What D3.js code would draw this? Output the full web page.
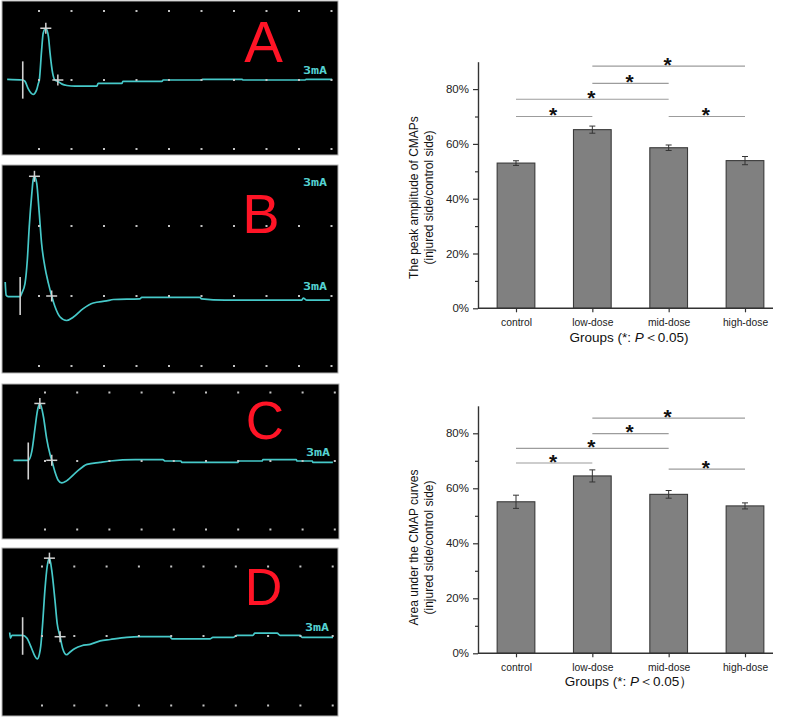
<!DOCTYPE html>
<html><head><meta charset="utf-8">
<script src="https://cdn.jsdelivr.net/npm/d3@7"></script>
<style>body{margin:0;background:#fff} svg{display:block}</style>
</head><body>
<svg id="fig" width="787" height="717"></svg>
<script>
// ---------------- DATA ----------------
// Oscilloscope traces: [time (divisions), amplitude (divisions)]
const panelLetters = ["A", "B", "C", "D"];
const stimLabel = "3mA";
const traceA = [[0.02,0.01],[0.5,0],[0.57,-0.02],[0.67,-0.13],[0.82,-0.21],[0.93,-0.14],[0.98,-0.05],[1.01,0],[1.08,0.43],[1.13,0.68],[1.21,0.75],[1.29,0.63],[1.34,0.39],[1.42,0.1],[1.49,0],[1.58,-0.02],[1.71,-0.06],[1.86,-0.08],[2.11,-0.09],[2.78,-0.09],[2.82,-0.05],[3.55,-0.05],[3.58,-0.02],[4.78,-0.02],[4.82,0],[6.0,0],[6.03,0.01],[7.25,0.01],[7.28,0],[9.18,0],[9.22,0.01],[10.02,0.01]];
const traceB = [[-0.04,0.2],[-0.01,0.01],[0.05,-0.01],[0.42,-0.01],[0.47,0.04],[0.57,0.18],[0.64,0.51],[0.7,0.99],[0.78,1.47],[0.82,1.66],[0.86,1.71],[0.93,1.61],[1.0,1.23],[1.08,0.75],[1.18,0.42],[1.29,0.18],[1.39,0],[1.49,-0.15],[1.65,-0.3],[1.85,-0.35],[2.06,-0.3],[2.36,-0.18],[2.67,-0.1],[3.08,-0.07],[3.29,-0.05],[4.11,-0.04],[4.16,-0.02],[5.95,-0.02],[6.0,-0.04],[6.72,-0.06],[9.08,-0.06],[9.13,-0.03],[9.24,-0.06],[9.95,-0.06]];
const traceC = [[0.02,0.01],[0.48,0.01],[0.59,0.14],[0.69,0.48],[0.76,0.72],[0.84,0.84],[0.95,0.65],[1.05,0.33],[1.16,0.09],[1.21,0.01],[1.31,-0.16],[1.41,-0.28],[1.52,-0.32],[1.67,-0.29],[1.98,-0.16],[2.3,-0.05],[2.71,-0.02],[3.02,0],[3.8,0.02],[4.66,0.02],[4.73,0],[5.22,0],[5.25,-0.02],[6.99,-0.02],[7.02,0],[7.74,0],[7.77,0.02],[8.8,0.02],[8.83,0],[9.3,0],[9.32,-0.02],[9.94,-0.02]];
const traceD = [[0.0,0.05],[0.02,-0.03],[0.07,0.01],[0.4,0.01],[0.53,-0.03],[0.68,-0.18],[0.78,-0.29],[0.85,-0.33],[0.92,-0.26],[0.96,-0.15],[1.02,0.18],[1.09,0.66],[1.16,1.0],[1.23,1.12],[1.3,0.95],[1.4,0.52],[1.47,0.18],[1.56,-0.01],[1.64,-0.18],[1.76,-0.27],[1.87,-0.23],[2.02,-0.18],[2.23,-0.14],[2.49,-0.12],[2.8,-0.07],[3.11,-0.05],[3.62,-0.02],[4.03,-0.01],[4.96,-0.01],[5.02,-0.04],[6.2,-0.04],[6.29,-0.02],[6.91,-0.02],[7.04,0.01],[7.53,0.01],[7.59,0.04],[8.28,0.04],[8.37,0.01],[8.99,0.01],[9.05,-0.02],[10.01,-0.02]];
const onsetTimes = [0.5, 0.42, 0.48, 0.4];
const peakMarks = [[1.21,0.75],[0.86,1.71],[0.84,0.84],[1.23,1.12]];
const endMarks = [[1.58,0],[1.39,0],[1.21,0.01],[1.56,-0.01]];
const gridCols = [1,2,3,4,5,6,7,8,9,10];
const gridRows = [-1,0,1];

// Bar charts
const groups = ["control", "low-dose", "mid-dose", "high-dose"];
const amplitudeMeans = [53.0, 65.2, 58.6, 53.9];
const amplitudeErrors = [0.85, 1.3, 1.0, 1.5];
const areaMeans = [55.1, 64.5, 57.8, 53.6];
const areaErrors = [2.4, 2.2, 1.4, 1.1];
const yTicks = [0, 20, 40, 60, 80];
const yMinorTicks = [10, 30, 50, 70];
const sigPairs = [[0,1],[0,2],[1,2],[1,3],[2,3]];
const amplitudeSigLevels = [70.0, 76.3, 82.1, 88.4, 70.0];
const areaSigLevels = [69.2, 74.5, 79.9, 85.5, 67.0];
const amplitudeYLabel = ["The peak amplitude of CMAPs", "(injured side/control side)"];
const areaYLabel = ["Area under the CMAP curves", "(injured side/control side)"];
const amplitudeTitle = ["Groups (*: ", "P", "＜0.05)"];
const areaTitle = ["Groups (*: ", "P", "＜0.05）"];

// ---------------- LAYOUT ----------------
const panelGeom = [
  {box:[2,1,336,154],   x0:6.5,  sp:32.5, base:80,  rs:69,   letter:[263.5,62,58], labels:[[327,74]]},
  {box:[2,165,336,208], x0:6.5,  sp:32.5, base:296, rs:70,   letter:[261,233,56],  labels:[[327,186],[327,290]]},
  {box:[2,384,337,155], x0:12.8, sp:32.2, base:461, rs:68.5, letter:[265,439,53],  labels:[[330,456]]},
  {box:[2,548,336,168], x0:9.7,  sp:32.3, base:636, rs:69.5, letter:[263.5,605,52], labels:[[329,631]]}
];
const traces = [traceA, traceB, traceC, traceD];
const svg = d3.select("#fig");
const FONT = "'Liberation Sans', Arial, Helvetica, sans-serif";

panelGeom.forEach((pg, i) => {
  const g = svg.append("g");
  g.append("rect").attr("x", pg.box[0]).attr("y", pg.box[1])
    .attr("width", pg.box[2]).attr("height", pg.box[3])
    .attr("fill", "#000").attr("stroke", "#b4b4b4").attr("stroke-width", 1);
  const x = d3.scaleLinear().domain([0, 10]).range([pg.x0, pg.x0 + 10 * pg.sp]);
  const y = d3.scaleLinear().domain([-1, 1]).range([pg.base + pg.rs, pg.base - pg.rs]);

  // trace
  g.append("path").datum(traces[i])
    .attr("d", d3.line().x(d => x(d[0])).y(d => y(d[1])).curve(d3.curveMonotoneX))
    .attr("fill", "none").attr("stroke", "#46c9c9").attr("stroke-width", 1.7)
    .attr("stroke-linejoin", "round");

  // grid dots
  gridRows.forEach(v => gridCols.forEach(t => {
    g.append("rect").attr("x", x(t) - 1).attr("y", y(v) - 1)
      .attr("width", 2).attr("height", 2).attr("fill", "#c4c4c4");
  }));

  // cursors
  const cc = "#d2d2d2";
  g.append("line").attr("x1", x(onsetTimes[i])).attr("x2", x(onsetTimes[i]))
    .attr("y1", y(0.27)).attr("y2", y(-0.27)).attr("stroke", cc).attr("stroke-width", 1.6);
  [peakMarks[i], endMarks[i]].forEach(m => {
    const cx = x(m[0]), cy = y(m[1]);
    g.append("line").attr("x1", cx - 5.5).attr("x2", cx + 5.5).attr("y1", cy).attr("y2", cy)
      .attr("stroke", cc).attr("stroke-width", 1.5);
    g.append("line").attr("x1", cx).attr("x2", cx).attr("y1", cy - 5.5).attr("y2", cy + 5.5)
      .attr("stroke", cc).attr("stroke-width", 1.5);
  });

  // big letter
  g.append("text").attr("x", pg.letter[0]).attr("y", pg.letter[1])
    .attr("text-anchor", "middle").attr("font-family", FONT)
    .attr("font-size", pg.letter[2]).attr("fill", "#ff1426").text(panelLetters[i]);

  // stimulus labels
  pg.labels.forEach(p => {
    g.append("text").attr("x", p[0]).attr("y", p[1]).attr("text-anchor", "end")
      .attr("font-family", "'DejaVu Sans Mono', monospace").attr("font-weight", "bold")
      .attr("font-size", 10).attr("fill", "#55d2d2")
      .attr("textLength", 24).attr("lengthAdjust", "spacingAndGlyphs")
      .text(stimLabel);
  });
});

// ---------------- BAR CHARTS ----------------
const chartGeom = [
  {y0:308.3, yTop:61.7, means:amplitudeMeans, errs:amplitudeErrors, sig:amplitudeSigLevels,
   ylab:amplitudeYLabel, labY:197.5, title:amplitudeTitle, titleY:342},
  {y0:653.3, yTop:405.8, means:areaMeans, errs:areaErrors, sig:areaSigLevels,
   ylab:areaYLabel, labY:547.5, title:areaTitle, titleY:686}
];
const axisX0 = 478, axisX1 = 773;
const xp = d3.scalePoint().domain(groups).range([516, 745]);
const barW = 37.7;

chartGeom.forEach(cg => {
  const g = svg.append("g").attr("font-family", FONT);
  const y = d3.scaleLinear().domain([0, 90]).range([cg.y0, cg.yTop]);

  // bars
  g.selectAll("rect.bar").data(groups).enter().append("rect")
    .attr("x", d => xp(d) - barW / 2).attr("y", (d, i) => y(cg.means[i]))
    .attr("width", barW).attr("height", (d, i) => y(0) - y(cg.means[i]))
    .attr("fill", "#808080").attr("stroke", "#3a3a3a").attr("stroke-width", 1.1);

  // error bars
  groups.forEach((d, i) => {
    const cx = xp(d), lo = y(cg.means[i] - cg.errs[i]), hi = y(cg.means[i] + cg.errs[i]);
    g.append("line").attr("x1", cx).attr("x2", cx).attr("y1", lo).attr("y2", hi)
      .attr("stroke", "#333").attr("stroke-width", 1);
    [lo, hi].forEach(yy => g.append("line").attr("x1", cx - 3).attr("x2", cx + 3)
      .attr("y1", yy).attr("y2", yy).attr("stroke", "#333").attr("stroke-width", 1));
  });

  // significance lines
  sigPairs.forEach((p, k) => {
    const xa = xp(groups[p[0]]), xb = xp(groups[p[1]]), yy = y(cg.sig[k]);
    g.append("line").attr("x1", xa).attr("x2", xb).attr("y1", yy).attr("y2", yy)
      .attr("stroke", "#9c9c9c").attr("stroke-width", 1.2);
    g.append("text").attr("x", (xa + xb) / 2 - 1).attr("y", yy + 5.5)
      .attr("text-anchor", "middle").attr("font-size", 21).attr("font-weight", "bold")
      .attr("fill", "#111").text("*");
  });

  // y axis
  const ya = g.append("g").attr("transform", `translate(${axisX0},0)`)
    .call(d3.axisLeft(y).tickValues(yTicks).tickFormat(d => d + "%").tickSize(5).tickSizeOuter(0).tickPadding(4));
  ya.select(".domain").attr("stroke", "#333").attr("stroke-width", 1.4);
  ya.selectAll(".tick line").attr("stroke", "#333").attr("stroke-width", 1.2);
  ya.selectAll(".tick text").attr("font-size", 11.5).attr("fill", "#222").attr("font-family", FONT);
  const ym = g.append("g").attr("transform", `translate(${axisX0},0)`)
    .call(d3.axisLeft(y).tickValues(yMinorTicks).tickFormat("").tickSize(3).tickSizeOuter(0));
  ym.select(".domain").remove();
  ym.selectAll(".tick line").attr("stroke", "#333").attr("stroke-width", 1.2);

  // x axis
  g.append("line").attr("x1", axisX0).attr("x2", axisX1).attr("y1", cg.y0).attr("y2", cg.y0)
    .attr("stroke", "#333").attr("stroke-width", 1.4);
  const xa = g.append("g").attr("transform", `translate(0,${cg.y0})`)
    .call(d3.axisBottom(xp).tickSize(4).tickSizeOuter(0).tickPadding(6.7));
  xa.select(".domain").remove();
  xa.selectAll(".tick line").attr("stroke", "#333").attr("stroke-width", 1.2);
  xa.selectAll(".tick text").attr("font-size", 10.3).attr("fill", "#222").attr("font-family", FONT);

  // y label
  const yl = g.append("g").attr("transform", `translate(417.5,${cg.labY}) rotate(-90)`);
  cg.ylab.forEach((t, k) => {
    yl.append("text").attr("x", 0).attr("y", k * 15).attr("text-anchor", "middle")
      .attr("font-size", 12).attr("fill", "#111").text(t);
  });

  // x title
  const tt = g.append("text").attr("x", 629).attr("y", cg.titleY).attr("text-anchor", "middle")
    .attr("font-size", 13.5).attr("fill", "#111");
  tt.append("tspan").text(cg.title[0]);
  tt.append("tspan").attr("font-style", "italic").text(cg.title[1]);
  tt.append("tspan").text(cg.title[2]);
});
</script>
</body></html>
